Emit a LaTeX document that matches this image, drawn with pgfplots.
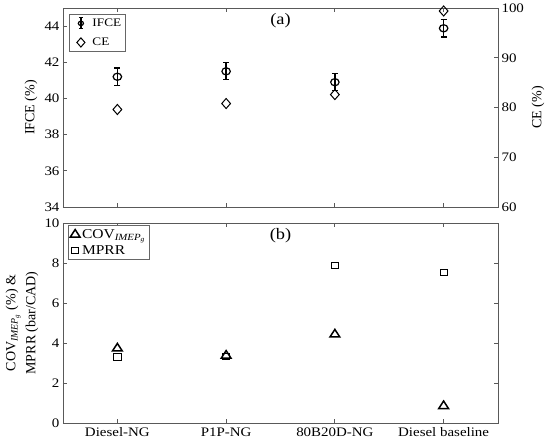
\documentclass[border=0pt]{standalone}
\usepackage{fontspec}
\setmainfont[FakeStretch=1.15]{Liberation Serif}
\newfontfamily\rotfont{Liberation Serif}
\usepackage{pgfplots}
\pgfplotsset{compat=1.18}
\pgfplotsset{
  myax/.style={
    scale only axis, width=435pt,
    xmin=0.5, xmax=4.5, xtick={1,2,3,4},
    axis line style={black!65, line width=0.8pt},
    tick style={black!65, line width=0.8pt},
    major tick length=4pt, tick align=inside,
    ticklabel style={font=\fontsize{13}{13}\selectfont},
    /pgf/number format/assume math mode=true,
  },
  mylegend/.style={
    legend cell align=left,
    legend style={draw=black!60, line width=0.6pt,
      inner xsep=2pt, inner ysep=2pt,
      at={(axis description cs:0.0138,0.97)}, anchor=north west},
  },
  marklegendA/.style={legend image code/.code={%
    \draw[mark repeat=2,mark phase=2] plot coordinates {(0pt,0pt)(9pt,0pt)(18pt,0pt)};}},
  marklegendB/.style={legend image code/.code={%
    \draw[mark repeat=2,mark phase=2] plot coordinates {(0pt,0pt)(8.5pt,0pt)(11pt,0pt)};}},
}
\begin{document}
\begin{tikzpicture}
\path[use as bounding box] (0pt,0pt) rectangle (550pt,-445pt);
% ---------- top (a) ----------
\begin{axis}[myax, at={(63pt,-207pt)}, anchor=south west, height=199pt,
  ymin=34, ymax=45, ytick={34,36,...,44}, ytick pos=left, xtick pos=both,
  xticklabels={},
  ylabel={IFCE (\%)},
  ylabel style={at={(axis description cs:-0.0736,0.5)}, anchor=center, rotate=0,
    font=\rotfont\fontsize{14}{14}\selectfont},
  title={(a)}, title style={at={(axis description cs:0.5,1)}, anchor=north, yshift=-8pt,
    font=\fontsize{16}{16}\selectfont},
  mylegend, legend style={font=\fontsize{11.5}{11.5}\selectfont, row sep=6pt, inner ysep=2.5pt}]
\addplot[black, only marks, mark=o, mark size=3.6pt, line width=1.2pt,
  mark options={xscale=1.17},
  legend image code/.code={%
    \draw[line width=1.2pt] (9pt,-5.5pt)--(9pt,5.5pt) (7pt,5.5pt)--(11pt,5.5pt) (7pt,-5.5pt)--(11pt,-5.5pt);
    \draw[mark size=2.2pt,mark options={xscale=1.17}] plot coordinates {(9pt,0pt)};
    \path (0pt,0pt) (18pt,0pt);},
  error bars/.cd, y dir=both, y explicit,
  error bar style={line width=1.3pt},
  error mark options={rotate=90, mark size=3pt, line width=1.3pt}]
  coordinates {
  (1,41.2) +- (0,0.49)
  (2,41.5) +- (0,0.47)
  (3,40.9) +- (0,0.47)
  (4,43.88) +- (0,0.49)
  };
\addlegendentry{IFCE}
\addlegendimage{black, only marks, mark=diamond, mark size=4.6pt, line width=1pt, mark options={xscale=1.17}, marklegendA}
\addlegendentry{CE}
\end{axis}
\begin{axis}[myax, at={(63pt,-207pt)}, anchor=south west, height=199pt,
  axis x line=none, axis y line*=right,
  ymin=60, ymax=100, ytick={60,70,...,100},
  ylabel={CE (\%)},
  ylabel style={at={(axis description cs:1.092,0.5)}, anchor=center, rotate=0,
    font=\rotfont\fontsize{14}{14}\selectfont}]
\addplot[black, only marks, mark=diamond, mark size=5pt, line width=1pt,
  mark options={xscale=1.17}] coordinates {
  (1,79.6) (2,80.8) (3,82.6) (4,99.4)
  };
\end{axis}
% ---------- bottom (b) ----------
\begin{axis}[myax, at={(63pt,-423pt)}, anchor=south west, height=200pt,
  ymin=0, ymax=10, ytick={0,2,...,10}, ytick pos=both, xtick pos=both,
  xticklabels={Diesel-NG,P1P-NG,80B20D-NG,Diesel baseline},
  xticklabel style={font=\fontsize{13}{13}\selectfont, yshift=-1pt},
  ylabel={COV\textsubscript{\textit{IMEP}\textsubscript{\textit{g}}} (\%) \&\\MPRR (bar/CAD)},
  ylabel style={at={(axis description cs:-0.094,0.5)}, anchor=center, align=center, rotate=0,
    font=\rotfont\fontsize{14}{20}\selectfont},
  title={(b)}, title style={at={(axis description cs:0.5,1)}, anchor=north, yshift=-8pt,
    font=\fontsize{16}{16}\selectfont},
  mylegend, legend style={font=\fontsize{13.5}{13.5}\selectfont, row sep=1.5pt, inner ysep=2pt,
    at={(axis description cs:0.0115,0.99)}}]
\addplot[black, only marks, mark=triangle, mark size=5pt, line width=1.5pt,
  mark options={xscale=1.12}, marklegendB] coordinates {
  (1,3.73) (2,3.37) (3,4.43) (4,0.85)
  };
\addlegendentry{COV\textsubscript{\textit{IMEP}\textsubscript{\textit{g}}}}
\addplot[black, only marks, mark=square, mark size=3.2pt, line width=0.9pt,
  mark options={xscale=1.12}, marklegendB] coordinates {
  (1,3.3) (2,3.33) (3,7.87) (4,7.52)
  };
\addlegendentry{MPRR}
\end{axis}
\end{tikzpicture}
\end{document}
